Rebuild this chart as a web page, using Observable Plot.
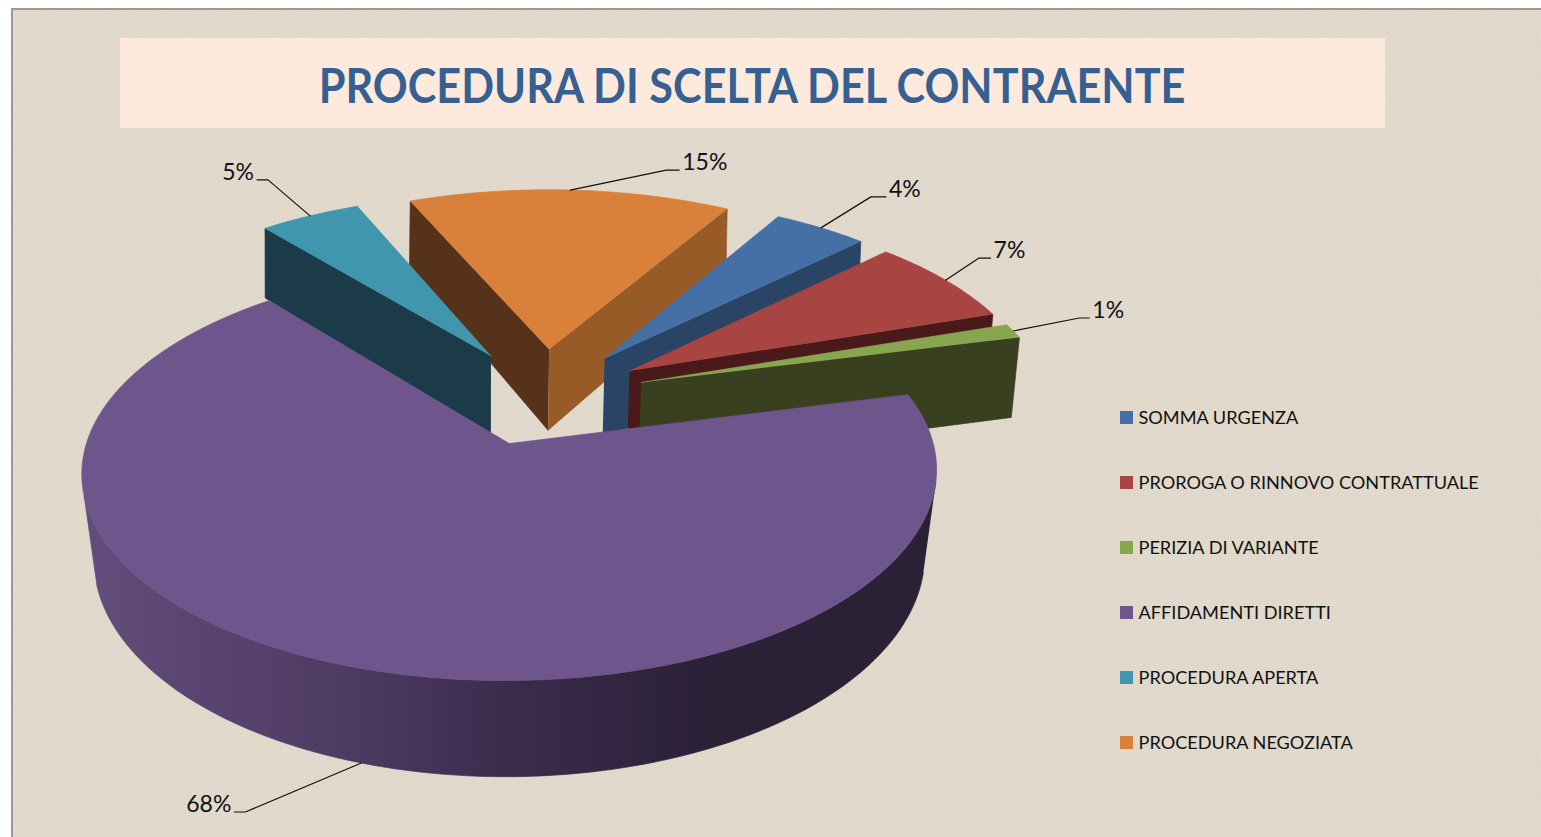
<!DOCTYPE html>
<html lang="it">
<head>
<meta charset="utf-8">
<title>Procedura di scelta del contraente</title>
<script src="https://cdn.jsdelivr.net/npm/d3@7"></script>
<script src="https://cdn.jsdelivr.net/npm/@observablehq/plot@0.6"></script>
<style>
  html, body { margin: 0; padding: 0; background: #fff; overflow: hidden; }
  #frame {
    position: absolute; left: 11px; top: 8px; width: 1530px; height: 829px; box-sizing: border-box;
    border-left: 2px solid #9b9892; border-top: 2px solid #9b9892;
    background-color: #e2dacd;
    background-image: url("data:image/svg+xml,%3Csvg xmlns='http://www.w3.org/2000/svg' width='240' height='240'%3E%3Cfilter id='n'%3E%3CfeTurbulence type='fractalNoise' baseFrequency='0.9' numOctaves='2' seed='4'/%3E%3CfeColorMatrix values='0 0 0 0 0.45 0 0 0 0 0.40 0 0 0 0 0.30 0 0 0 0.55 -0.2'/%3E%3C/filter%3E%3Crect width='240' height='240' filter='url(%23n)' opacity='0.35'/%3E%3C/svg%3E");
  }
  #titlebox {
    position: absolute; left: 120px; top: 38px; width: 1265px; height: 90px;
    background: #fdeadc; color: #376092;
    font: 700 47px Lato, sans-serif; text-align: center; line-height: 94px;
  }
  #titlebox span { display: inline-block; transform: scaleX(0.92); transform-origin: 50% 50%; white-space: nowrap; }
  #chart { position: absolute; left: 0; top: 0; }
  #chart svg { background: transparent; display: block; }
</style>
</head>
<body>
<div id="frame"></div>
<div id="titlebox"><span>PROCEDURA DI SCELTA DEL CONTRAENTE</span></div>
<div id="chart"></div>
<script>
// ---- data -------------------------------------------------------------
const categories = ["SOMMA URGENZA", "PROROGA O RINNOVO CONTRATTUALE", "PERIZIA DI VARIANTE",
                    "AFFIDAMENTI DIRETTI", "PROCEDURA APERTA", "PROCEDURA NEGOZIATA"];
const shares = [4.3, 7.2, 1.2, 68, 4.6, 14.7];
// ---- styles -----------------------------------------------------------
const topColors   = ["#4470a5", "#a84442", "#88a64f", "#6e568c", "#3f96ad", "#d9813b"];
const startWall   = ["#2a4465", "#4a1a1a", "#384020", "#2a2136", "#1a3b47", "#56321a"];
const endWall     = ["#2a4465", "#4a1a1a", "#384020", "#2a2136", "#1a3b47", "#985b28"];
const paintOrder  = [5, 4, 0, 1, 2, 3];
const rimStops    = [0, 0.31, 0.51, 0.73, 1];
const rimColors   = ["#624c7b", "#4d3a61", "#3a2b4c", "#2b2138", "#2a2136"];
// leader: offset of the elbow from the slice rim, and tail length
const leaderElbow = [[50,-31],[33,-22],[66,-13],[-116,49],[-42,-36],[96,-20]];
const leaderTail  = [15, 12, 10, -11, -11, 13];
// ---- projection of the pie plane (perspective) ------------------------
const firstAngle = 30, burst = 0.252;
const silhouette = [100, 256];           // rim angles where the side wall is tangent to the outline
const W = 1541, H = 837;
const plane = {
  top:    {x0: 542.5, a: 410, y0: 395.5, b: 192,   p: 0.132},
  bottom: {x0: 541.5, a: 401.5, y0: 480, b: 205.5, p: 0.113}
};
const project = (P, u, v) => {
  const w = 1 + P.p * v;
  return [P.x0 + P.a * u / w, P.y0 - P.b * v / w];
};
const rad = d => d * Math.PI / 180;
const total = d3.sum(shares);
let acc = firstAngle;
const slices = shares.map((s, i) => {
  const t1 = acc, t2 = acc + s / total * 360; acc = t2;
  const m = (t1 + t2) / 2;
  return {i, t1, t2, m, eu: burst * Math.sin(rad(m)), ev: burst * Math.cos(rad(m))};
});
const rimPt = (S, P, t) => project(P, S.eu + Math.sin(rad(t)), S.ev + Math.cos(rad(t)));
const apexPt = (S, P) => project(P, S.eu, S.ev);

const polys = [];
let pid = 0;
const addPoly = (pts, color) => { const id = pid++; pts.forEach(([x, y]) => polys.push({id, x, y, color})); };
const facing = n => Math.cos(rad(n)) < 0;
for (const i of paintOrder) {
  const S = slices[i];
  const n = Math.max(2, Math.ceil((S.t2 - S.t1) / 1));
  const ts = d3.range(n + 1).map(k => S.t1 + (S.t2 - S.t1) * k / n);
  // outer rim, front part only (the largest slice is the only one that shows it)
  if (i === 3) {
    const front = ts.filter(t => t >= silhouette[0] && t <= silhouette[1]);
    addPoly([...front.map(t => rimPt(S, plane.top, t)),
             ...front.slice().reverse().map(t => rimPt(S, plane.bottom, t))], "url(#rimShade)");
  }
  // radial walls that face the viewer
  const wall = (t, c) => addPoly([apexPt(S, plane.top), rimPt(S, plane.top, t), rimPt(S, plane.bottom, t), apexPt(S, plane.bottom)], c);
  if (facing(S.t1 - 90)) wall(S.t1, startWall[i]);
  if (facing(S.t2 + 90)) wall(S.t2, endWall[i]);
  // top face
  addPoly([apexPt(S, plane.top), ...ts.map(t => rimPt(S, plane.top, t))], topColors[i]);
}

// leaders and labels
const leaderRows = [], labelRows = [];
slices.forEach((S, i) => {
  const p0 = rimPt(S, i === 3 ? plane.bottom : plane.top, S.m);
  const p1 = [p0[0] + leaderElbow[i][0], p0[1] + leaderElbow[i][1]];
  const p2 = [p1[0] + leaderTail[i], p1[1]];
  [p0, p1, p2].forEach(([x, y]) => leaderRows.push({i, x, y}));
  labelRows.push({x: p2[0] + Math.sign(leaderTail[i]) * 3, y: p2[1] - 7.5,
                  text: d3.format(".0f")(shares[i]) + "%", anchor: leaderTail[i] > 0 ? "start" : "end"});
});

// legend rows
const legendX = 1120, legendY = 417.5, legendStep = 65, swatch = 13;
const legendRows = categories.map((c, i) => ({c, color: topColors[i], y: legendY + i * legendStep}));

const rimGradient = () => {
  const ns = "http://www.w3.org/2000/svg";
  const defs = document.createElementNS(ns, "defs");
  const g = document.createElementNS(ns, "linearGradient");
  g.setAttribute("id", "rimShade");
  g.setAttribute("gradientUnits", "userSpaceOnUse");
  const a = rimPt(slices[3], plane.bottom, 270), b = rimPt(slices[3], plane.bottom, 90);
  g.setAttribute("x1", a[0]); g.setAttribute("x2", b[0]); g.setAttribute("y1", 0); g.setAttribute("y2", 0);
  rimStops.forEach((s, i) => {
    const st = document.createElementNS(ns, "stop");
    st.setAttribute("offset", s); st.setAttribute("stop-color", rimColors[i]);
    g.appendChild(st);
  });
  defs.appendChild(g);
  return defs;
};

const chart = Plot.plot({
  width: W, height: H, margin: 0,
  x: {domain: [0, W], range: [0, W], axis: null},
  y: {domain: [0, H], range: [0, H], axis: null},
  color: {type: "identity"},
  style: {background: "transparent"},
  marks: [
    rimGradient,
    Plot.line(polys, {x: "x", y: "y", z: "id", fill: "color", stroke: "color", strokeWidth: 0.7}),
    Plot.line(leaderRows, {x: "x", y: "y", z: "i", stroke: "#111", strokeWidth: 1.2}),
    Plot.text(labelRows.filter(d => d.anchor === "start"), {x: "x", y: "y", text: "text", textAnchor: "start", fontSize: 23, fontFamily: "Lato, sans-serif", fill: "#111"}),
    Plot.text(labelRows.filter(d => d.anchor === "end"), {x: "x", y: "y", text: "text", textAnchor: "end", fontSize: 23, fontFamily: "Lato, sans-serif", fill: "#111"}),
    Plot.rect(legendRows, {x1: legendX, x2: legendX + swatch, y1: d => d.y - swatch / 2, y2: d => d.y + swatch / 2, fill: "color"}),
    Plot.text(legendRows, {x: legendX + 18, y: "y", text: "c", textAnchor: "start", fontSize: 18.15, fontFamily: "Lato, sans-serif", fill: "#111"})
  ]
});
document.getElementById("chart").appendChild(chart);
</script>
</body>
</html>
